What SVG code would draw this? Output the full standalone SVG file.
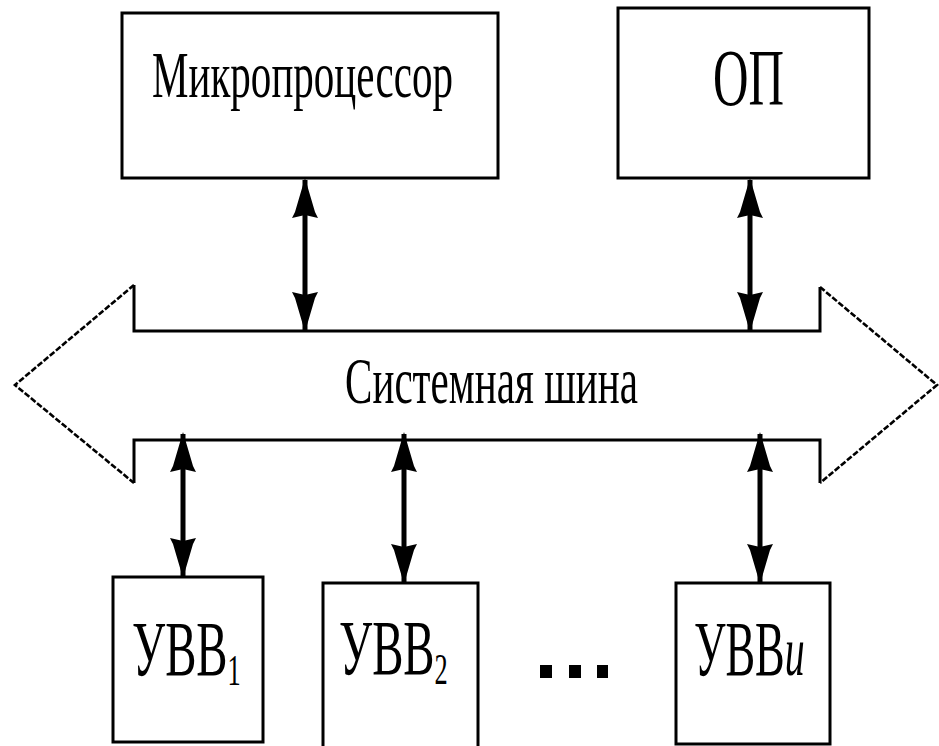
<svg xmlns="http://www.w3.org/2000/svg" width="939" height="746" viewBox="0 0 939 746">
<style>
.box{fill:#fff;stroke:#000;stroke-width:3}
.t{font-family:"Liberation Serif","Times New Roman",serif;fill:#000}
.bus{fill:none;stroke:#000;stroke-width:3}
.diag{fill:none;stroke:#000;stroke-width:2.6;stroke-dasharray:6 2}
.conn{stroke:#000;stroke-width:5;fill:none;marker-start:url(#ah);marker-end:url(#ah)}
</style>
<defs>
<marker id="ah" viewBox="0 0 40 28" refX="38" refY="14" markerWidth="40" markerHeight="28" markerUnits="userSpaceOnUse" orient="auto-start-reverse">
<path d="M0,1 L6,4 L40,14 L6,24 L0,27 L3,14 Z" fill="#000"/>
</marker>
</defs>
<rect width="939" height="746" fill="#fff"/>
<g id="bus">
<path class="bus" d="M134,285 L134,331 L820,331 L820,287"/>
<path class="bus" d="M134,483 L134,440 L820,440 L820,483"/>
<path class="diag" d="M134,285 L15,385 L134,483"/>
<path class="diag" d="M820,287 L937,385 L820,483"/>
<text class="t" x="345" y="403" font-size="66" textLength="293" lengthAdjust="spacingAndGlyphs">Системная шина</text>
</g>
<g id="mp">
<rect class="box" x="122" y="13" width="376" height="165"/>
<text class="t" x="152" y="97" font-size="66" textLength="301" lengthAdjust="spacingAndGlyphs">Микропроцессор</text>
</g>
<g id="op">
<rect class="box" x="618" y="8" width="251" height="170"/>
<text class="t" x="713" y="105" font-size="80" textLength="71" lengthAdjust="spacingAndGlyphs">ОП</text>
</g>
<g id="uvv1">
<rect class="box" x="113" y="577" width="150" height="165"/>
<text class="t" transform="translate(132,675) scale(0.6,1)" font-size="78">УВВ<tspan font-size="44" dy="10">1</tspan></text>
</g>
<g id="uvv2">
<rect class="box" x="323" y="583" width="155" height="170"/>
<text class="t" transform="translate(339,674) scale(0.6,1)" font-size="78">УВВ<tspan font-size="44" dy="10">2</tspan></text>
</g>
<g id="dots">
<rect x="540" y="665" width="12" height="13" fill="#000"/>
<rect x="569" y="665" width="12" height="13" fill="#000"/>
<rect x="597" y="665" width="11" height="13" fill="#000"/>
</g>
<g id="uvvn">
<rect class="box" x="676" y="583" width="154" height="161"/>
<text class="t" transform="translate(694,675) scale(0.57,1)" font-size="78">УВВ<tspan font-size="70" font-style="italic">и</tspan></text>
</g>
<g id="connectors">
<line class="conn" x1="305" y1="180" x2="305" y2="330"/>
<line class="conn" x1="750" y1="180" x2="750" y2="330"/>
<line class="conn" x1="183" y1="434" x2="183" y2="576"/>
<line class="conn" x1="404" y1="434" x2="404" y2="582"/>
<line class="conn" x1="760" y1="434" x2="760" y2="582"/>
</g>
</svg>
